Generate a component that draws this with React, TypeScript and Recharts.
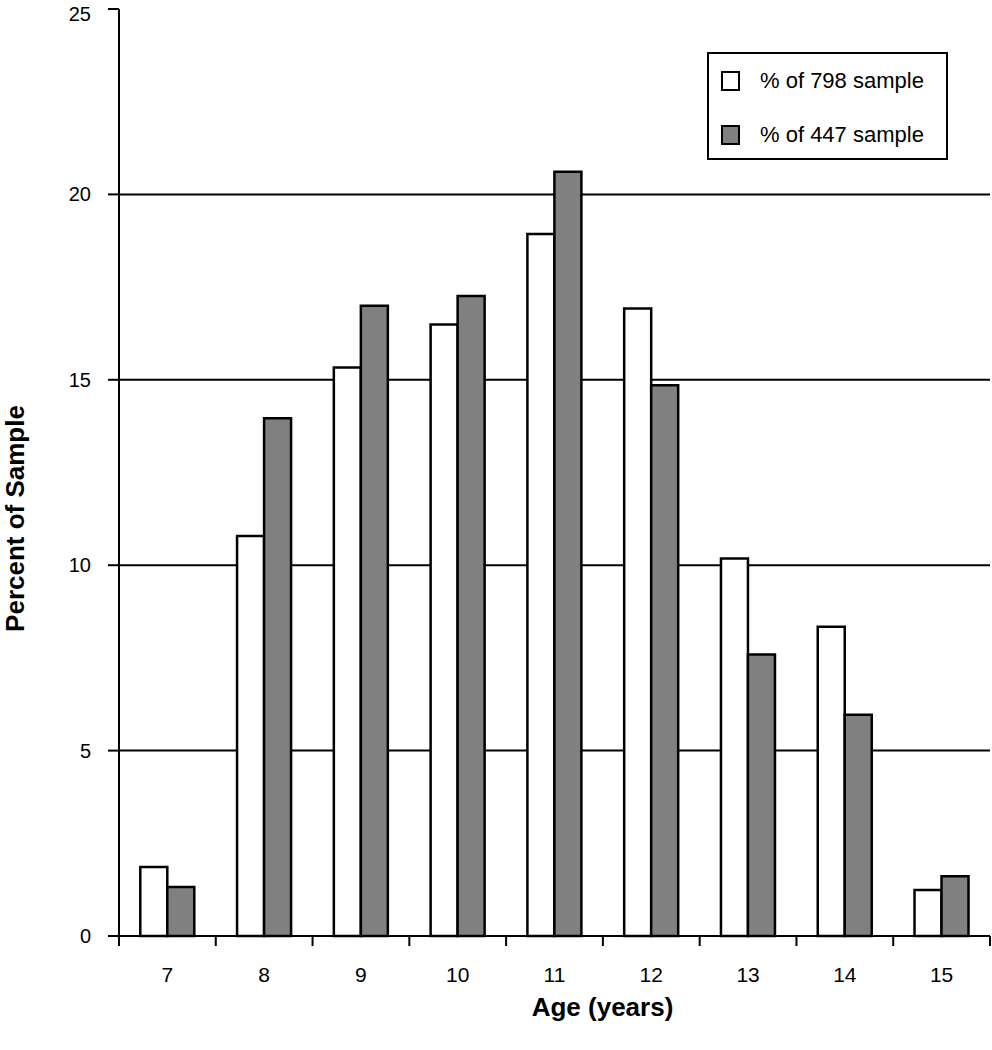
import React from 'react';
import { BarChart, Bar, XAxis, YAxis, CartesianGrid } from 'recharts';

const ages = ['7', '8', '9', '10', '11', '12', '13', '14', '15'];
const pct798 = [1.86, 10.79, 15.33, 16.49, 18.93, 16.92, 10.18, 8.34, 1.24];
const pct447 = [1.32, 13.96, 17.0, 17.26, 20.61, 14.85, 7.59, 5.97, 1.61];
const yTicks = [0, 5, 10, 15, 20, 25];
const gridValues = [5, 10, 15, 20];

const data = ages.map((age, i) => ({ age, s798: pct798[i], s447: pct447[i] }));

const FONT = '"Liberation Sans", Arial, sans-serif';
const GREY = '#808080';

// tick marks sit on category boundaries, labels at the centre
function AgeTick(props: any) {
  const { x, y, payload, index, width, visibleTicksCount } = props;
  const band = width / visibleTicksCount;
  return (
    <g>
      <line x1={x - band / 2} y1={y} x2={x - band / 2} y2={y + 10} stroke="#000" strokeWidth={2} />
      {index === visibleTicksCount - 1 && (
        <line x1={x + band / 2} y1={y} x2={x + band / 2} y2={y + 10} stroke="#000" strokeWidth={2} />
      )}
      <text x={x} y={y + 40} textAnchor="middle" dominantBaseline="middle" fontSize={21} fill="#000" fontFamily={FONT}>
        {payload.value}
      </text>
    </g>
  );
}

// keep the top label ("25") inside the page
function PercentTick(props: any) {
  const { x, y, payload } = props;
  return (
    <text x={x} y={Math.max(y, 14) + 7} textAnchor="end" fontSize={20} fill="#000" fontFamily={FONT}>
      {payload.value}
    </text>
  );
}

function AgeLabel(props: any) {
  const { viewBox } = props;
  return (
    <text
      x={viewBox.x + viewBox.width / 2 + 48}
      y={viewBox.y + 80}
      textAnchor="middle"
      fontSize={26}
      fontWeight="bold"
      fill="#000"
      fontFamily={FONT}
    >
      Age (years)
    </text>
  );
}

function PercentLabel(props: any) {
  const { viewBox } = props;
  const cx = viewBox.x + 17;
  const cy = viewBox.y + viewBox.height / 2 + 46;
  return (
    <text
      x={cx}
      y={cy}
      transform={`rotate(-90 ${cx} ${cy})`}
      textAnchor="middle"
      dominantBaseline="middle"
      fontSize={26}
      fontWeight="bold"
      fill="#000"
      fontFamily={FONT}
    >
      Percent of Sample
    </text>
  );
}

function LegendBox() {
  const row = (fill: string, label: string) => (
    <div style={{ display: 'flex', alignItems: 'center', height: 54 }}>
      <div style={{ width: 15, height: 16, border: '2.5px solid #000', background: fill, marginLeft: 12 }} />
      <span style={{ marginLeft: 20, fontSize: 22, color: '#000', fontFamily: FONT }}>{label}</span>
    </div>
  );
  return (
    <div
      style={{
        position: 'absolute',
        left: 707,
        top: 52,
        width: 237,
        height: 104,
        border: '2px solid #000',
        background: '#fff',
      }}
    >
      {row('#fff', '% of 798 sample')}
      {row(GREY, '% of 447 sample')}
    </div>
  );
}

export default function App() {
  return (
    <div style={{ position: 'absolute', left: 0, top: 0, width: 992, height: 1050, background: '#fff' }}>
      <BarChart
        width={992}
        height={1050}
        data={data}
        margin={{ top: 9, right: 2, bottom: 54, left: 0 }}
        barCategoryGap="22%"
        barGap={0}
      >
        <CartesianGrid horizontal vertical={false} horizontalValues={gridValues} stroke="#000" strokeWidth={2} />
        <XAxis
          dataKey="age"
          height={60}
          axisLine={{ stroke: '#000', strokeWidth: 2 }}
          tickLine={false}
          tickSize={0}
          tickMargin={0}
          tick={<AgeTick />}
          interval={0}
          label={<AgeLabel />}
        />
        <YAxis
          width={119}
          domain={[0, 25]}
          ticks={yTicks}
          interval={0}
          axisLine={{ stroke: '#000', strokeWidth: 2 }}
          tickLine={{ stroke: '#000', strokeWidth: 2 }}
          tickSize={11}
          tickMargin={17}
          tick={<PercentTick />}
          label={<PercentLabel />}
        />
        <Bar dataKey="s798" name="% of 798 sample" fill="#fff" stroke="#000" strokeWidth={2.5} isAnimationActive={false} />
        <Bar dataKey="s447" name="% of 447 sample" fill={GREY} stroke="#000" strokeWidth={2.5} isAnimationActive={false} />
      </BarChart>
      <LegendBox />
    </div>
  );
}
